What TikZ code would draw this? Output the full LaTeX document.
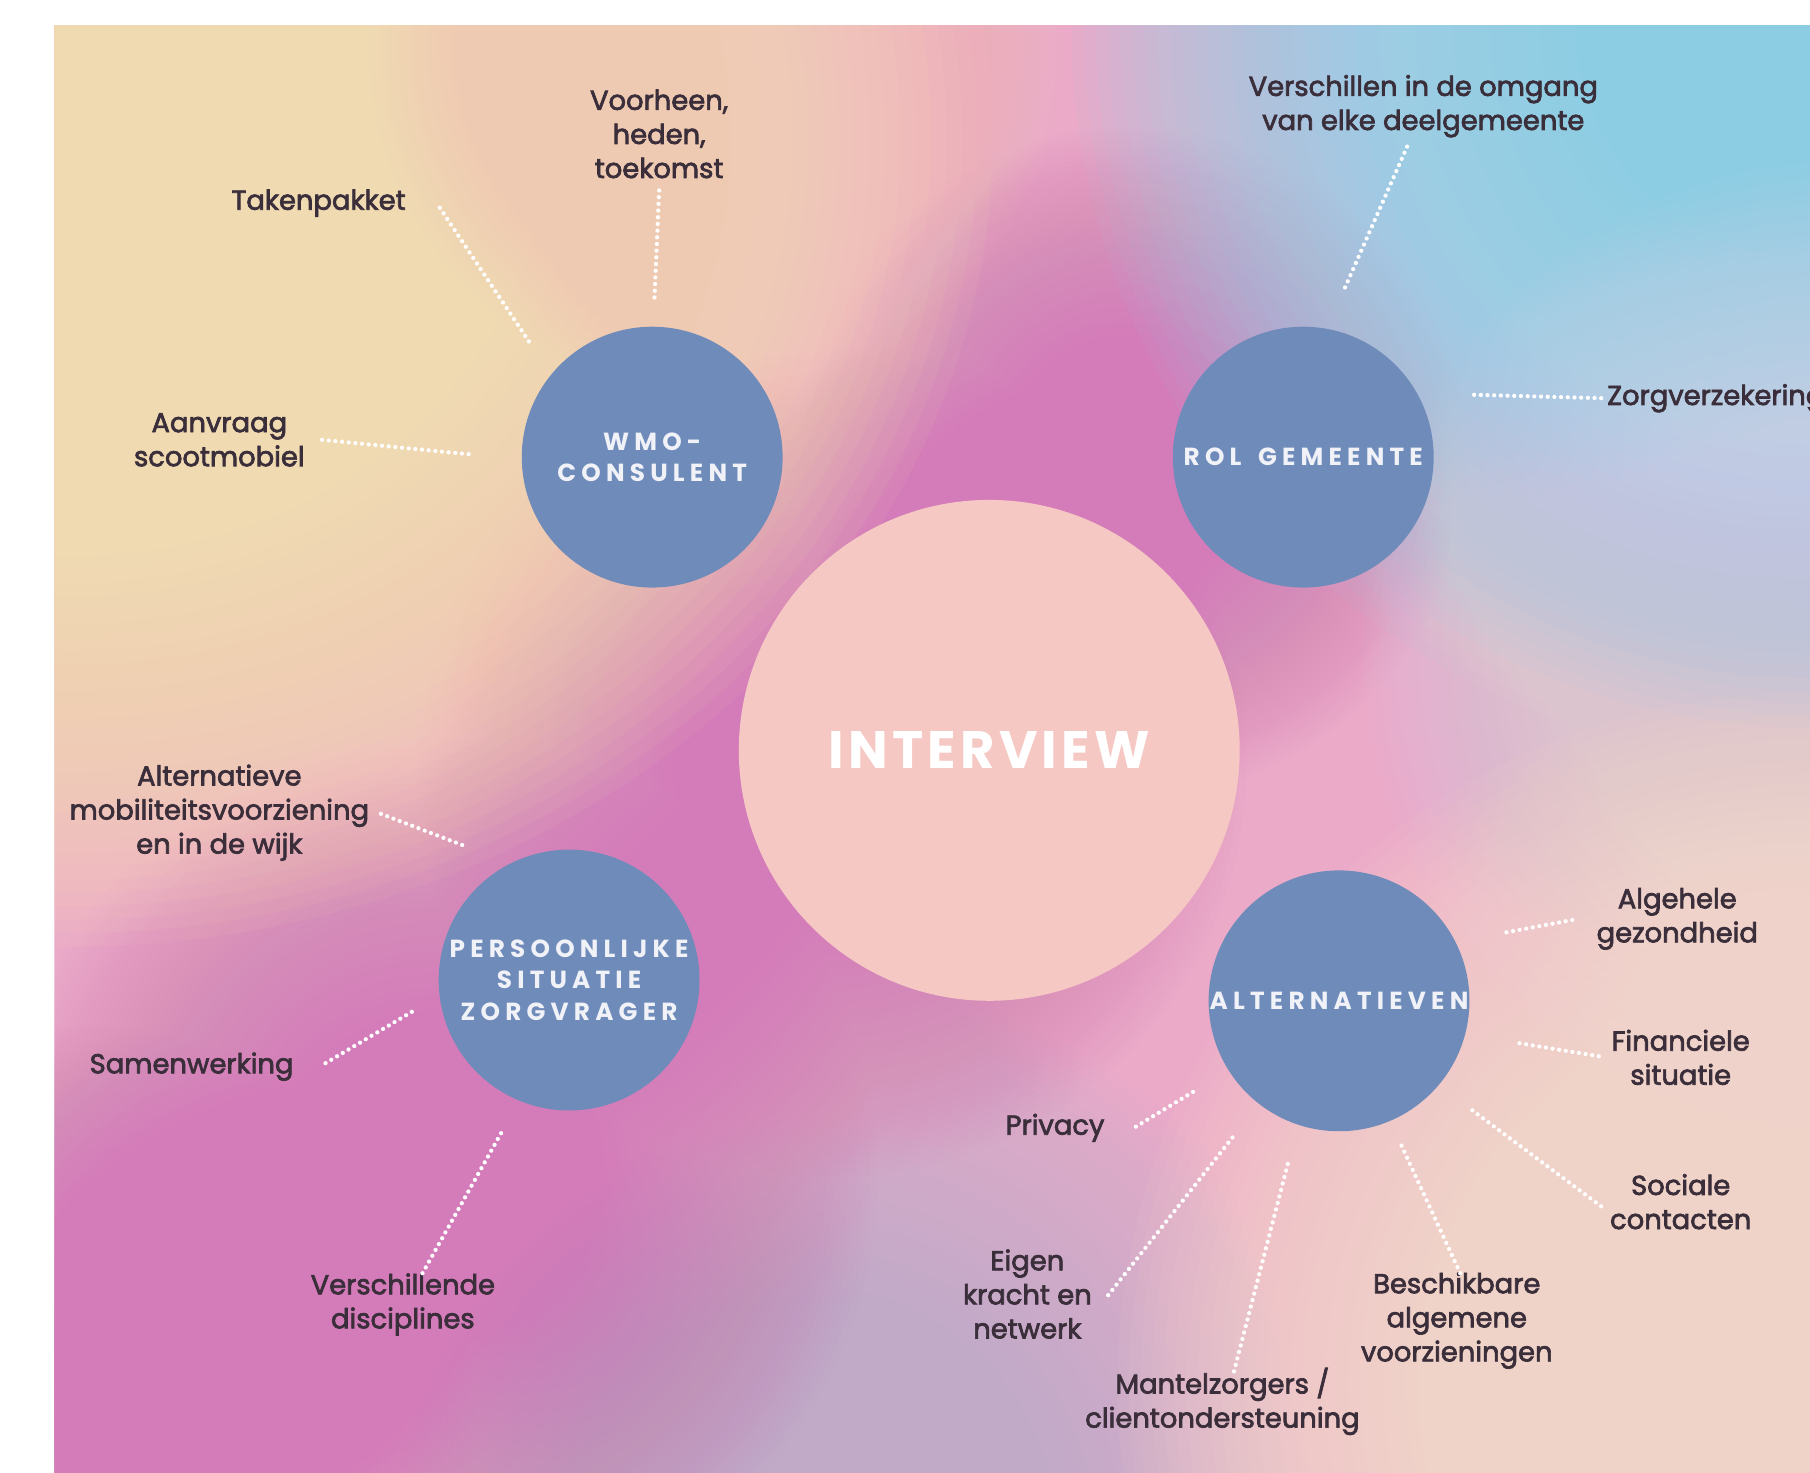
\documentclass[tikz,border=0pt]{standalone}
\usepackage{fontspec}
\setmainfont{Poppins}
\newfontfamily\labfont[FakeBold=2.5]{Poppins}
\newfontfamily\circfont[LetterSpace=21]{Poppins}
\newfontfamily\bigfont[LetterSpace=8]{Poppins}
\definecolor{basepink}{HTML}{EAAAC8}
\definecolor{peachyellow}{HTML}{FFEAB2}
\definecolor{skyblue}{HTML}{8CE0F6}
\definecolor{palegray}{HTML}{DCE0EA}
\definecolor{magenta1}{HTML}{D47CB9}
\definecolor{lavender}{HTML}{C0AEE2}
\definecolor{peachbr}{HTML}{FFE2CA}
\definecolor{peachtop}{HTML}{FACABA}
\definecolor{circblue}{HTML}{6F8BBA}
\definecolor{interviewpink}{HTML}{F6C8C4}
\definecolor{labc}{HTML}{3A2E3A}
\definecolor{circtext}{HTML}{F0F2F8}
% soft radial blob: [opacity per ring]{colour}{x}{y}{x radius}{y radius}
\newcommand\softblob[6][0.037]{%
  \foreach \k in {1,...,60} {\fill[#2, fill opacity=#1] (#3,#4) ellipse ({#5/60*\k} and {#6/60*\k});}%
}
\begin{document}
\begin{tikzpicture}[x=0.02cm,y=-0.02cm,
  lab/.style={font=\labfont\fontsize{13.5}{16.8}\selectfont, text=labc, align=center, inner sep=0pt},
  circ/.style={circle, fill=circblue, minimum size=4.52cm, inner sep=0pt, text=circtext, align=center, font=\circfont\bfseries\fontsize{12.2}{15.4}\selectfont},
  dotline/.style={white, line width=2.1pt, line cap=round, dash pattern=on 0pt off 3.3pt}
]
\useasboundingbox (0,0) rectangle (1568,1276);
\fill[white] (0,0) rectangle (1568,1276);
\begin{scope}
\clip (47,22) rectangle (1568,1276);
\fill[basepink] (47,22) rectangle (1568,1276);
% background blobs
\softblob{lavender}{700}{1330}{480}{480}
\softblob[0.033]{magenta1}{980}{400}{290}{290}
\softblob[0.033]{magenta1}{720}{660}{360}{360}
\softblob[0.03]{magenta1}{380}{1020}{380}{380}
\softblob[0.03]{magenta1}{80}{1220}{330}{330}
\softblob[0.058]{peachyellow}{60}{120}{800}{700}
\softblob{peachtop}{620}{40}{300}{300}
\softblob[0.05]{skyblue}{1568}{22}{640}{640}
\softblob{palegray}{1600}{560}{420}{420}
\softblob[0.058]{peachbr}{1568}{1200}{600}{600}

% circles
\node[circ] (wmo) at (565,396) {WMO-\\CONSULENT};
\node[circ] (rol) at (1129,396) {ROL\hspace{0.25em} GEMEENTE};
\node[circle, fill=interviewpink, minimum size=8.68cm, inner sep=0pt, text=white,
      font=\bigfont\bfseries\fontsize{26}{30}\selectfont] (interview) at (857,650) {INTERVIEW};
\node[circ] (pers) at (493,849) {PERSOONLIJKE\\SITUATIE\\ZORGVRAGER};
\node[circ] (alt) at (1160,867) {ALTERNATIEVEN};

% labels
\node[lab] (voorheen) at (571,116) {Voorheen,\\heden,\\toekomst};
\node[lab] (taken) at (276,176) {Takenpakket};
\node[lab] (aanvraag) at (190,381) {Aanvraag\\scootmobiel};
\node[lab] (verschil) at (1233,92) {Verschillen in de omgang\\van elke deelgemeente};
\node[lab, anchor=west] (zorgverz) at (1392,345) {Zorgverzekering};
\node[lab] (altmob) at (190,704) {Alternatieve\\mobiliteitsvoorziening\\en in de wijk};
\node[lab] (samen) at (166,924) {Samenwerking};
\node[lab] (discip) at (349,1130) {Verschillende\\disciplines};
\node[lab] (privacy) at (914,977) {Privacy};
\node[lab] (eigen) at (890,1121) {Eigen\\kracht en\\netwerk};
\node[lab] (mantel) at (1059,1214) {Mantelzorgers /\\clientondersteuning};
\node[lab] (beschik) at (1262,1144) {Beschikbare\\algemene\\voorzieningen};
\node[lab] (sociale) at (1456,1041) {Sociale\\contacten};
\node[lab] (financ) at (1456,916) {Financiele\\situatie};
\node[lab] (algeh) at (1453,796) {Algehele\\gezondheid};

% connector end points
\coordinate (c1a) at (571,165);   \coordinate (c1b) at (567,258);
\coordinate (c2a) at (381,180);   \coordinate (c2b) at (459,297);
\coordinate (c3a) at (279,381);   \coordinate (c3b) at (411,394);
\coordinate (c4a) at (1219,127);  \coordinate (c4b) at (1163,254);
\coordinate (c5a) at (1277,342);  \coordinate (c5b) at (1390,345);
\coordinate (c6a) at (330,705);   \coordinate (c6b) at (403,733);
\coordinate (c7a) at (282,921);   \coordinate (c7b) at (361,874);
\coordinate (c8a) at (366,1103);  \coordinate (c8b) at (435,980);
\coordinate (c9a) at (984,976);   \coordinate (c9b) at (1035,945);
\coordinate (c10a) at (960,1122); \coordinate (c10b) at (1068,985);
\coordinate (c11a) at (1069,1188);\coordinate (c11b) at (1117,1003);
\coordinate (c12a) at (1265,1103);\coordinate (c12b) at (1213,990);
\coordinate (c13a) at (1387,1045);\coordinate (c13b) at (1273,960);
\coordinate (c14a) at (1385,915); \coordinate (c14b) at (1312,903);
\coordinate (c15a) at (1362,797); \coordinate (c15b) at (1303,808);

\foreach \i in {1,...,15} {\draw[dotline] (c\i a) -- (c\i b);}
\end{scope}
\end{tikzpicture}
\end{document}
